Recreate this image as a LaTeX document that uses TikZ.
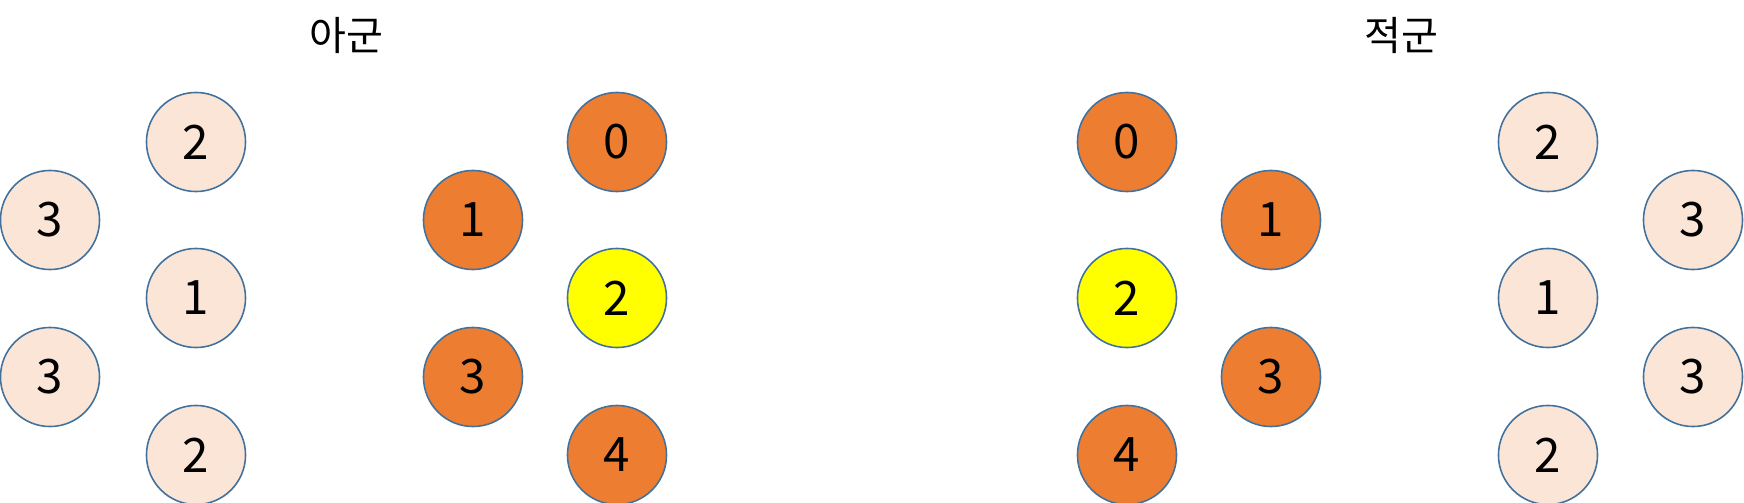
\documentclass[tikz,border=0pt]{standalone}
\usepackage{fontspec}
\setmainfont{Noto Sans CJK KR}
\definecolor{tkLine}{HTML}{41719C}
\definecolor{tkPale}{HTML}{FBE5D6}
\definecolor{tkOrange}{HTML}{ED7D31}
\definecolor{tkYellow}{HTML}{FFFF00}
\tikzset{
  % Pale unit circle
  pcirc/.style={circle,minimum size=0.99cm,inner sep=0pt,
    draw=tkLine,line width=0.45pt,fill=tkPale,
    font=\fontsize{13.5}{15}\selectfont,text=black},
  % Orange unit circle
  ocirc/.style={pcirc,fill=tkOrange},
  % Yellow (selected) unit circle
  ycirc/.style={pcirc,fill=tkYellow},
  % Side title
  ttl/.style={inner sep=0pt,font=\fontsize{11.4}{13}\selectfont,text=black},
}
\begin{document}
\begin{tikzpicture}[x=0.01cm,y=-0.01cm]
  \useasboundingbox (0,0) rectangle (1744,503);

  % Ally side
  \node[ttl] (allyT) at (346,35) {아군};
  \node[pcirc] (a3t) at (50,220) {3};
  \node[pcirc] (a3b) at (50,377) {3};
  \node[pcirc] (a2t) at (196,142) {2};
  \node[pcirc] (a1)  at (196,298) {1};
  \node[pcirc] (a2b) at (196,455) {2};
  \node[ocirc] (a1o) at (473,220) {1};
  \node[ocirc] (a3o) at (473,377) {3};
  \node[ocirc] (a0o) at (617,142) {0};
  \node[ycirc] (a2y) at (617,298) {2};
  \node[ocirc] (a4o) at (617,455) {4};

  % Enemy side
  \node[ttl] (enemyT) at (1401,35) {적군};
  \node[ocirc] (e0o) at (1127,142) {0};
  \node[ycirc] (e2y) at (1127,298) {2};
  \node[ocirc] (e4o) at (1127,455) {4};
  \node[ocirc] (e1o) at (1271,220) {1};
  \node[ocirc] (e3o) at (1271,377) {3};
  \node[pcirc] (e2t) at (1548,142) {2};
  \node[pcirc] (e1)  at (1548,298) {1};
  \node[pcirc] (e2b) at (1548,455) {2};
  \node[pcirc] (e3t) at (1693,220) {3};
  \node[pcirc] (e3b) at (1693,377) {3};
\end{tikzpicture}
\end{document}
